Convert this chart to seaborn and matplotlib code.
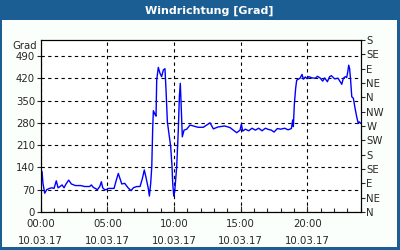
import matplotlib
matplotlib.use("Agg")
import matplotlib.pyplot as plt
import seaborn as sns
import pandas as pd
from matplotlib.patches import Rectangle

sns.set_style("ticks")
plt.rcParams['font.family'] = ['DejaVu Sans']

title = "Windrichtung [Grad]"
y_label = "Grad"
hours = [0.0, 0.1, 0.17, 0.3, 0.45, 0.65, 0.85, 1.0, 1.17, 1.3, 1.45, 1.6, 1.75, 1.9, 2.1,
         2.3, 2.6, 3.0, 3.3, 3.67, 3.8, 3.95, 4.1, 4.25, 4.43, 4.55, 4.65, 4.8, 4.92, 5.05,
         5.3, 5.5, 5.67, 5.82, 5.95, 6.08, 6.3, 6.55, 6.78, 6.95, 7.2, 7.45, 7.62, 7.77, 7.92,
         8.07, 8.15, 8.25, 8.33, 8.4, 8.45, 8.6, 8.65, 8.7, 8.82, 8.95, 9.07, 9.2, 9.32, 9.4,
         9.5, 9.65, 9.75, 9.85, 9.9, 9.98, 10.05, 10.2, 10.32, 10.4, 10.47, 10.52, 10.62, 10.75,
         10.95, 11.2, 11.45, 11.8, 12.2, 12.7, 12.95, 13.3, 13.8, 14.2, 14.45, 14.7, 14.95, 15.05,
         15.15, 15.35, 15.6, 15.85, 16.1, 16.35, 16.6, 16.85, 17.1, 17.3, 17.5, 17.75, 18.0,
         18.3, 18.55, 18.8, 18.9, 18.95, 19.02, 19.12, 19.2, 19.45, 19.6, 19.7, 19.85, 19.95,
         20.1, 20.35, 20.6, 20.75, 20.95, 21.15, 21.3, 21.5, 21.67, 21.8, 22.05, 22.3, 22.45,
         22.58, 22.7, 22.85, 22.95, 23.03, 23.1, 23.17, 23.25, 23.33, 23.45, 23.58, 23.7,
         23.82, 23.9, 24.0]
degrees = [90, 127, 90, 59, 70, 74, 76, 74, 98, 76, 80, 85, 76, 88, 100,
           88, 83, 83, 80, 80, 85, 77, 74, 70, 80, 95, 76, 70, 70, 74,
           74, 74, 100, 121, 104, 88, 90, 76, 67, 76, 80, 80, 104, 132, 104,
           74, 50, 90, 142, 263, 318, 304, 301, 414, 454, 435, 425, 446, 450, 383,
           283, 236, 205, 142, 90, 50, 64, 142, 257, 362, 404, 352, 236, 257,
           260, 273, 270, 266, 266, 280, 261, 267, 270, 265, 257, 249, 257, 276,
           254, 260, 255, 263, 257, 263, 255, 263, 259, 257, 251, 262, 260,
           263, 258, 262, 289, 268, 336, 388, 414, 420, 432, 417, 424, 419,
           425, 421, 420, 426, 421, 411, 421, 409, 425, 428, 418, 420, 410,
           401, 420, 425, 422, 440, 461, 450, 410, 362, 357, 325, 299,
           278, 283, 278]
x_ticks = [0, 5, 10, 15, 20]
x_tick_labels = ["00:00\n10.03.17", "05:00\n10.03.17", "10:00\n10.03.17",
                 "15:00\n10.03.17", "20:00\n10.03.17"]
y_ticks = [0, 70, 140, 210, 280, 350, 420, 490]
compass_ticks = [0, 45, 90, 135, 180, 225, 270, 315, 360, 405, 450, 495, 540]
compass_labels = ["N", "NE", "E", "SE", "S", "SW", "W", "NW", "N", "NE", "E", "SE", "S"]

frame_col = "#1b5e93"
fig = plt.figure(figsize=(4, 2.5), dpi=100, facecolor=frame_col)
bg = Rectangle((2/400, 3/250), 395/400, 227/250, transform=fig.transFigure,
               facecolor="#fbfffb", edgecolor="none", zorder=-10)
fig.add_artist(bg)
fig.text(0.522, 0.958, title, color="white", fontsize=8, fontweight="bold",
         ha="center", va="center")

ax = fig.add_axes([40.7/400, 38/250, 320/400, 172/250])
ax.set_zorder(5)
ax.set_facecolor("white")
df = pd.DataFrame({"h": hours, "deg": degrees})
sns.lineplot(data=df, x="h", y="deg", ax=ax, color="#0000ff", lw=1.0)
ax.set_xlim(0, 24)
ax.set_ylim(0, 540)
ax.set_xlabel("")
ax.set_ylabel("")
ax.set_xticks(x_ticks)
ax.set_xticklabels(x_tick_labels, fontsize=7.3, linespacing=1.85)
ax.set_xticks(range(0, 25), minor=True)
ax.set_yticks(y_ticks)
ax.set_yticklabels([str(v) for v in y_ticks], fontsize=7.3)
ax.tick_params(axis="x", which="major", direction="in", length=4, width=0.8, pad=5)
ax.tick_params(axis="x", which="minor", direction="in", length=3, width=0.8)
ax.tick_params(axis="y", direction="out", length=3, width=0.8, pad=1)
ax.grid(True, which="major", color="black", linestyle=(0, (3, 3)), lw=0.8)
for s in ax.spines.values():
    s.set_visible(True)
    s.set_color("black")
    s.set_linewidth(0.8)
ax.text(-0.3, 521, y_label, fontsize=7.3, ha="right", va="center")

ax2 = ax.twinx()
ax2.set_zorder(6)
ax2.patch.set_visible(False)
ax2.set_ylim(0, 540)
ax2.set_yticks(compass_ticks)
ax2.set_yticklabels(compass_labels, fontsize=7.3)
ax2.tick_params(axis="y", direction="out", length=3, width=0.8, pad=1)
for s in ax2.spines.values():
    s.set_color("black")
    s.set_linewidth(0.8)

fig.savefig("out.png", dpi=100, facecolor=frame_col)
